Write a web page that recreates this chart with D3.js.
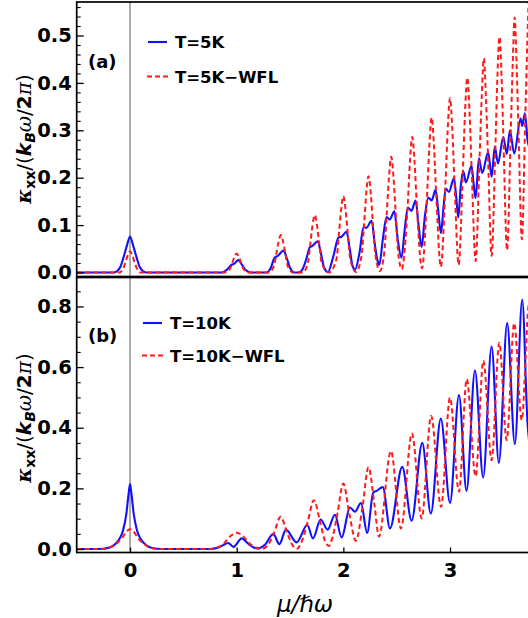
<!DOCTYPE html>
<html>
<head>
<meta charset="utf-8">
<script src="https://cdn.jsdelivr.net/npm/d3@7"></script>
<style>
  body { margin: 0; background: #fff; }
  svg { display: block; }
  text { font-family: "DejaVu Sans", sans-serif; fill: #000; }
</style>
</head>
<body>
<svg id="chart" width="528" height="618"></svg>
<script>
// curves: [mu/hw, kappa]
const blueA = [
  [-0.5,0],[-0.15,0],[-0.12,0.003],[-0.09,0.012],[-0.06,0.033],[-0.03,0.056],[0,0.076],[0.03,0.056],[0.06,0.033],[0.09,0.012],[0.12,0.003],[0.15,0],
  [0.86,0],[0.91,0.006],[0.95,0.016],[0.975,0.018],[1.015,0.026],[1.05,0.016],[1.085,0.005],[1.13,0],
  [1.28,0],[1.32,0.01],[1.355,0.031],[1.385,0.035],[1.44,0.046],[1.47,0.03],[1.5,0.01],[1.54,0],
  [1.58,0],[1.62,0.008],[1.655,0.03],[1.685,0.053],[1.71,0.056],[1.76,0.066],[1.79,0.04],[1.82,0.01],[1.855,0.001],
  [1.905,0.033],[1.955,0.074],[1.98,0.075],[2.03,0.086],[2.06,0.05],[2.085,0.015],[2.11,0.006],
  [2.15,0.04],[2.19,0.096],[2.215,0.094],[2.265,0.109],[2.295,0.06],[2.32,0.025],[2.337,0.016],
  [2.37,0.07],[2.405,0.117],[2.435,0.112],[2.478,0.129],[2.51,0.07],[2.545,0.031],
  [2.575,0.09],[2.605,0.137],[2.638,0.13],[2.678,0.152],[2.705,0.1],[2.734,0.054],
  [2.765,0.12],[2.796,0.158],[2.828,0.152],[2.865,0.175],[2.89,0.13],[2.915,0.083],
  [2.94,0.14],[2.96,0.177],[2.99,0.17],[3.037,0.199],[3.058,0.16],[3.077,0.116],
  [3.1,0.18],[3.124,0.214],[3.149,0.19],[3.202,0.225],[3.22,0.19],[3.24,0.157],
  [3.271,0.241],[3.302,0.21],[3.358,0.254],[3.39,0.202],
  [3.42,0.265],[3.45,0.23],[3.499,0.286],[3.533,0.25],
  [3.561,0.30],[3.602,0.251],[3.662,0.325],[3.677,0.309],[3.702,0.336],[3.727,0.28],[3.75,0.26]
];

const redA = [
  [-0.5,0],[-0.1,0],[-0.065,0.008],[-0.042,0.022],[-0.022,0.036],[0,0.045],[0.022,0.036],[0.042,0.022],[0.065,0.008],[0.1,0],
  [0.88,0],[0.935,0.007],[0.958,0.02],[0.978,0.032],[1.0,0.040],[1.022,0.032],[1.042,0.02],[1.065,0.007],[1.12,0],
  [1.30,0],[1.35,0.014],[1.372,0.04],[1.392,0.064],[1.414,0.079],[1.436,0.064],[1.456,0.04],[1.478,0.014],[1.53,0],
  [1.62,0],[1.668,0.021],[1.69,0.06],[1.71,0.098],[1.732,0.121],[1.754,0.098],[1.774,0.06],[1.796,0.021],[1.866,0],
  [1.935,0.028],[1.958,0.08],[1.978,0.13],[2.0,0.161],[2.022,0.13],[2.042,0.08],[2.065,0.028],[2.118,0.001],
  [2.171,0.036],[2.194,0.1],[2.214,0.165],[2.236,0.203],[2.258,0.165],[2.278,0.1],[2.301,0.036],[2.343,0.003],
  [2.385,0.045],[2.407,0.125],[2.427,0.198],[2.449,0.244],[2.471,0.198],[2.491,0.125],[2.513,0.045],[2.547,0.007],
  [2.604,0.145],[2.624,0.232],[2.646,0.286],[2.668,0.232],[2.688,0.145],[2.737,0.009],
  [2.786,0.168],[2.806,0.265],[2.828,0.327],[2.85,0.265],[2.87,0.168],[2.914,0.012],
  [2.958,0.19],[2.978,0.3],[3.0,0.368],[3.022,0.3],[3.042,0.19],[3.081,0.016],
  [3.12,0.21],[3.14,0.333],[3.162,0.411],[3.184,0.333],[3.204,0.21],[3.24,0.024],
  [3.277,0.24],[3.297,0.368],[3.317,0.452],[3.337,0.368],[3.357,0.24],[3.39,0.035],
  [3.426,0.27],[3.444,0.41],[3.464,0.497],[3.484,0.41],[3.502,0.27],[3.535,0.047],
  [3.57,0.3],[3.588,0.44],[3.606,0.538],[3.624,0.44],[3.642,0.3],[3.674,0.07],
  [3.706,0.33],[3.724,0.48],[3.742,0.58],[3.76,0.48]
];

const blueB = [
  [-0.5,0],[-0.3,0],[-0.2,0.004],[-0.15,0.013],[-0.1,0.033],[-0.065,0.062],[-0.035,0.115],[-0.014,0.18],[0,0.214],
  [0.014,0.18],[0.035,0.115],[0.065,0.062],[0.1,0.033],[0.15,0.013],[0.2,0.004],[0.3,0],
  [0.75,0],[0.82,0.004],[0.87,0.012],[0.92,0.02],[0.97,0.007],[1.047,0.035],[1.1,0.02],[1.15,0.007],[1.19,0.002],
  [1.27,0.016],[1.343,0.05],[1.4,0.016],[1.462,0.064],[1.562,0.022],[1.662,0.079],[1.715,0.035],[1.787,0.097],
  [1.853,0.064],[1.921,0.113],[1.984,0.038],[2.062,0.137],[2.109,0.123],[2.165,0.152],[2.223,0.053],
  [2.28,0.186],[2.312,0.192],[2.37,0.204],[2.437,0.068],[2.552,0.271],[2.64,0.093],[2.74,0.35],[2.82,0.117],
  [2.914,0.43],[3.0,0.152],[3.084,0.508],[3.155,0.192],[3.234,0.589],[3.311,0.236],[3.39,0.668],[3.458,0.284],
  [3.536,0.745],[3.608,0.346],[3.677,0.822],[3.727,0.414],[3.75,0.33]
];

const redB = [
  [-0.5,0],[-0.25,0],[-0.18,0.006],[-0.12,0.02],[-0.075,0.036],[-0.035,0.057],[0,0.065],[0.035,0.057],[0.075,0.036],[0.12,0.02],[0.18,0.006],[0.25,0],
  [0.75,0],[0.82,0.005],[0.88,0.018],[0.94,0.042],[1.0,0.054],[1.06,0.042],[1.12,0.018],[1.18,0.005],[1.23,0],
  [1.29,0.012],[1.35,0.053],[1.412,0.106],[1.474,0.053],[1.525,0.012],[1.565,0.001],
  [1.61,0.025],[1.665,0.088],[1.724,0.161],[1.783,0.088],[1.83,0.025],[1.862,0.01],
  [1.9,0.04],[1.945,0.118],[2.0,0.216],[2.055,0.118],[2.118,0.027],
  [2.18,0.14],[2.236,0.27],[2.29,0.15],[2.334,0.041],
  [2.446,0.323],[2.54,0.068],[2.643,0.381],[2.734,0.101],[2.823,0.439],[2.916,0.139],[3.0,0.499],[3.084,0.189],
  [3.157,0.56],[3.24,0.24],[3.313,0.621],[3.39,0.293],[3.462,0.68],[3.531,0.359],[3.602,0.745],[3.672,0.426],
  [3.742,0.81],[3.76,0.78]
];

const xTicks = [0, 1, 2, 3];
const yTicksA = [0, 0.1, 0.2, 0.3, 0.4, 0.5];
const yTicksB = [0, 0.2, 0.4, 0.6, 0.8];
const legendA = ["T=5K", "T=5K\u2212WFL"];
const legendB = ["T=10K", "T=10K\u2212WFL"];

const svg = d3.select("#chart");
const left = 76.7, right = 530;

const x = d3.scaleLinear().domain([-0.5, 3.75]).range([left, right]);

const panels = [
  { id: "a", top: 2, bottom: 276.5, y: d3.scaleLinear().domain([-0.0085, 0.5707]).range([276.5, 2]),
    ticks: yTicksA, minor: d3.range(0, 0.57, 0.02), blue: blueA, red: redA, legend: legendA,
    tag: "(a)", tagY: 68, legX: 148, legY: [42, 76.5], labelY: 139 },
  { id: "b", top: 277.5, bottom: 552.5, y: d3.scaleLinear().domain([-0.0115, 0.8955]).range([552.5, 277.5]),
    ticks: yTicksB, minor: d3.range(0, 0.9, 0.05), blue: blueB, red: redB, legend: legendB,
    tag: "(b)", tagY: 342, legX: 143, legY: [323, 355.5], labelY: 418 }
];

panels.forEach(p => {
  const g = svg.append("g");

  svg.append("clipPath").attr("id", "clip-" + p.id)
    .append("rect").attr("x", left).attr("y", p.top).attr("width", right - left).attr("height", p.bottom - p.top);

  // vertical line at mu = 0
  g.append("line")
    .attr("x1", x(0)).attr("x2", x(0)).attr("y1", p.top).attr("y2", p.bottom)
    .attr("stroke", "#7f7f7f").attr("stroke-width", 1.3);

  const line = d3.line()
    .x(d => x(d[0]))
    .y(d => p.y(d[1]))
    .curve(d3.curveMonotoneX);

  const plot = g.append("g").attr("clip-path", "url(#clip-" + p.id + ")");

  plot.append("path").datum(p.blue)
    .attr("d", line).attr("fill", "none")
    .attr("stroke", "#1010ff").attr("stroke-width", 2.1).attr("stroke-linejoin", "round");

  plot.append("path").datum(p.red)
    .attr("d", line).attr("fill", "none")
    .attr("stroke", "#ff1a1a").attr("stroke-width", 2).attr("stroke-dasharray", "5,3.2");

  // left axis, ticks pointing inward
  const axisMajor = d3.axisLeft(p.y).tickValues(p.ticks).tickFormat(d3.format(".1f"))
    .tickSizeInner(-7).tickSizeOuter(0).tickPadding(5);
  const ga = g.append("g").attr("transform", `translate(${left},0)`).call(axisMajor);
  ga.select(".domain").remove();
  ga.selectAll(".tick line").attr("stroke-width", 1.3);
  ga.selectAll("text").attr("font-size", 19.5).attr("font-family", "DejaVu Sans").attr("font-weight", "bold").attr("fill", "#000");

  const minorVals = p.minor.filter(v => !p.ticks.some(t => Math.abs(t - v) < 1e-6));
  const gm = g.append("g").attr("transform", `translate(${left},0)`)
    .call(d3.axisLeft(p.y).tickValues(minorVals).tickFormat("").tickSizeInner(-4).tickSizeOuter(0));
  gm.select(".domain").remove();
  gm.selectAll(".tick line").attr("stroke-width", 1.1);

  // frame
  g.append("rect")
    .attr("x", left).attr("y", p.top).attr("width", right - left).attr("height", p.bottom - p.top)
    .attr("fill", "none").attr("stroke", "#000").attr("stroke-width", 1.7);

  // panel tag
  g.append("text").attr("x", 88).attr("y", p.tagY).attr("font-size", 18).attr("font-weight", "bold").text(p.tag);

  // legend
  g.append("line").attr("x1", p.legX).attr("x2", p.legX + 19).attr("y1", p.legY[0]).attr("y2", p.legY[0])
    .attr("stroke", "#1010ff").attr("stroke-width", 2.1);
  g.append("line").attr("x1", p.legX - 1).attr("x2", p.legX + 20).attr("y1", p.legY[1]).attr("y2", p.legY[1])
    .attr("stroke", "#ff1a1a").attr("stroke-width", 2).attr("stroke-dasharray", "5,3");
  p.legend.forEach((t, i) => {
    g.append("text").attr("x", p.legX + 27).attr("y", p.legY[i] + 6)
      .attr("font-size", 16.5).attr("font-weight", "bold").text(t);
  });

  // y axis label
  const lab = svg.append("text")
    .attr("transform", `translate(31,${p.labelY}) rotate(-90)`)
    .attr("text-anchor", "middle").attr("font-size", 20).attr("font-weight", "bold");
  lab.append("tspan").attr("font-family", "DejaVu Serif").attr("font-style", "italic").text("\u03ba");
  lab.append("tspan").attr("font-size", 14).attr("dy", 4).text("xx");
  lab.append("tspan").attr("dy", -4).attr("font-weight", "normal").text("/(");
  lab.append("tspan").attr("font-style", "italic").text("k");
  lab.append("tspan").attr("font-size", 14).attr("dy", 4).attr("font-style", "italic").text("B");
  lab.append("tspan").attr("dy", -4).attr("font-family", "DejaVu Serif").attr("font-style", "italic").attr("font-weight", "normal").text("\u03c9");
  lab.append("tspan").attr("font-weight", "normal").text("/");
  lab.append("tspan").text("2");
  lab.append("tspan").attr("font-family", "DejaVu Serif").attr("font-style", "italic").attr("font-weight", "normal").text("\u03c0");
  lab.append("tspan").attr("font-weight", "normal").text(")");
});

// bottom axis of panel (b)
const pb = panels[1];
const gx = svg.append("g").attr("transform", `translate(0,${pb.bottom})`)
  .call(d3.axisBottom(x).tickValues(xTicks).tickFormat(d3.format("d"))
    .tickSizeInner(-5).tickSizeOuter(0).tickPadding(11));
gx.select(".domain").remove();
gx.selectAll(".tick line").attr("stroke-width", 1.3);
gx.selectAll("text").attr("font-size", 19.5).attr("font-family", "DejaVu Sans").attr("font-weight", "bold").attr("fill", "#000");

// x axis label
svg.append("text")
  .attr("x", 305).attr("y", 612)
  .attr("text-anchor", "middle")
  .attr("font-family", "Liberation Serif, DejaVu Serif, serif")
  .attr("font-style", "italic")
  .attr("font-size", 23)
  .text("\u03bc/\u210f\u03c9");
</script>
</body>
</html>
